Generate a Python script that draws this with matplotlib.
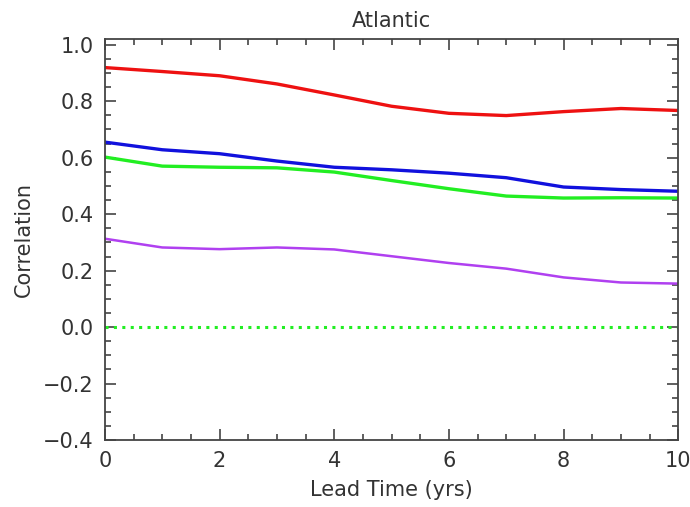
import matplotlib
matplotlib.use("Agg")
import matplotlib.pyplot as plt
from matplotlib.ticker import MultipleLocator

lead = [0, 1, 2, 3, 4, 5, 6, 7, 8, 9, 10]
red = [0.919, 0.905, 0.890, 0.861, 0.822, 0.782, 0.757, 0.749, 0.763, 0.774, 0.767]
blue = [0.655, 0.628, 0.614, 0.588, 0.566, 0.557, 0.545, 0.529, 0.496, 0.487, 0.481]
green = [0.602, 0.570, 0.566, 0.564, 0.549, 0.519, 0.490, 0.464, 0.457, 0.458, 0.457]
purple = [0.313, 0.282, 0.276, 0.282, 0.275, 0.251, 0.227, 0.207, 0.176, 0.158, 0.154]
zero = [0.0, 0.0]

txt = "#333333"
plt.rcParams["font.family"] = ["DejaVu Sans"]

fig = plt.figure(figsize=(6.9, 5.07), dpi=100)
ax = fig.add_axes([0.152, 0.132, 0.831, 0.791])

ax.plot(lead, red, color="#ee1111", linewidth=2.4)
ax.plot(lead, blue, color="#1111dd", linewidth=2.4)
ax.plot(lead, green, color="#22ee22", linewidth=2.4)
ax.plot(lead, purple, color="#b040f0", linewidth=1.8)
ax.plot([lead[0], lead[-1]], zero, color="#22ee22", linewidth=2.2,
        linestyle=(0, (1, 1.75)), dash_capstyle="butt")

ax.set_xlim(0, 10)
ax.set_ylim(-0.4, 1.02)
ax.xaxis.set_major_locator(MultipleLocator(2))
ax.xaxis.set_minor_locator(MultipleLocator(0.5))
ax.yaxis.set_major_locator(MultipleLocator(0.2))
ax.yaxis.set_minor_locator(MultipleLocator(0.05))
ax.yaxis.set_major_formatter(lambda v, p: f"{v:.1f}".replace("-", "\u2212"))
ax.tick_params(which="both", direction="in", top=True, right=True,
               colors="#444444", labelcolor=txt, labelsize=15, width=1.2)
ax.tick_params(which="major", length=8, pad=8)
ax.tick_params(which="minor", length=4)
for s in ax.spines.values():
    s.set_color("#444444")
    s.set_linewidth(1.3)

ax.set_title("Atlantic", fontsize=15, color=txt, pad=9)
ax.set_xlabel("Lead Time (yrs)", fontsize=15, color=txt, labelpad=6)
ax.set_ylabel("Correlation", fontsize=15, color=txt, labelpad=7)

fig.savefig("out.png", dpi=100)
plt.close(fig)
